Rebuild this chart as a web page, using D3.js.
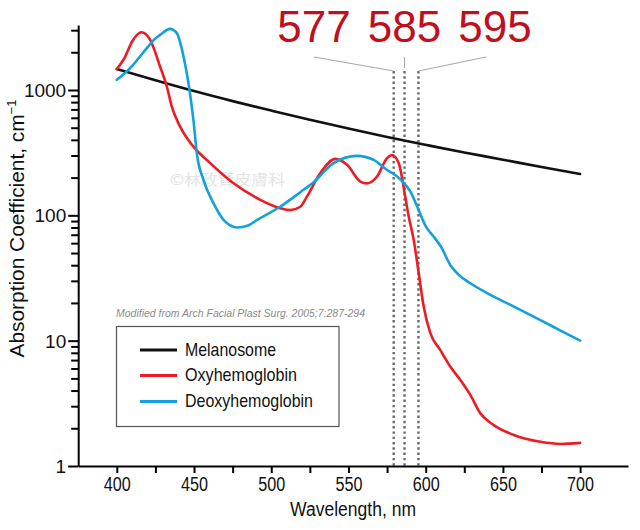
<!DOCTYPE html>
<html><head><meta charset="utf-8">
<script src="https://cdn.jsdelivr.net/npm/d3@7"></script>
<style>body{margin:0;background:#fff}svg{display:block}</style>
</head><body><svg id="c" width="640" height="530"></svg>
<script>
// ---- data ----
const wlMel = [400,425,450,475,500,525,550,575,600,625,650,675,700];
const melanosome = [1470,1195,980,815,685,578,492,422,365,317,278,243,214];

const wlOxy = [400,405,410,416,421.6,428,432.4,435.6,441,449.6,460.5,475.6,492.9,505.8,512.3,518.8,523.1,531.7,541.5,549.1,557.7,562,568.5,575,578.2,582.5,585,586,589,592.2,595.5,598.7,603,609.5,616,622.4,628.9,635.4,644.1,657,674.3,687.3,700];
const oxyhemoglobin = [1470,1800,2450,2890,2512,1540,1065,737,510,353,261,180,133,114,110,117,141,217,282,253,186,180,204,286,303,261,190,160,98,64,34.5,18.7,11.5,8.4,6.2,4.86,3.69,2.63,2.12,1.77,1.56,1.50,1.53];

const wlDeoxy = [400,410,415,420,424,428,434.5,438.9,441,443.2,446.4,449.6,451.8,456.1,462.6,469.1,478,485,490.9,505.8,518.8,527.4,540.4,555.5,566.3,575,581.5,585,590,595.5,600,605,610,616,622,628.9,641.9,654.9,674.3,687,700];
const deoxyhemoglobin = [1205,1560,1848,2200,2512,2750,3075,2840,2400,1848,1133,577,313,192,125,92,80,83,92,117,153,184,261,298,277,230,204,186,155,110,82,68,56,40,33,28.7,23.2,19.3,14.6,12.1,10];

const xTickValues = [400,425,450,475,500,525,550,575,600,625,650,675,700];
const xTickLabels = [400,450,500,550,600,650,700];
const yMajorTicks = [1,10,100,1000];
const yMinorTicks = [2,3,4,5,6,7,8,9,20,30,40,50,60,70,80,90,200,300,400,500,600,700,800,900,2000,3000];

const markerWl = [579.3, 586.3, 595.3];
const markerLabels = ["577","585","595"];

const seriesNames = ["Melanosome","Oxyhemoglobin","Deoxyhemoglobin"];
const seriesColors = ["#111111","#ec1c24","#14a0d8"];

// ---- drawing ----
const svg = d3.select("#c");
const NARROW = "'Liberation Sans Narrow','Arial Narrow','Liberation Sans',Arial,sans-serif";
const SANS = "'Liberation Sans',Arial,sans-serif";

const x = d3.scaleLinear().domain([375, 731]).range([78.2, 628]);
const y = d3.scaleLog().domain([1, 3300]).range([466, 25]);

// watermark
svg.append("text").attr("x", 170).attr("y", 185)
  .attr("font-family", "'Noto Sans CJK TC','Noto Sans CJK SC',sans-serif")
  .attr("font-size", 15).attr("fill", "#e4e4e4")
  .attr("textLength", 115).attr("lengthAdjust", "spacingAndGlyphs")
  .text("©林政賢皮膚科");

// marker dotted lines
svg.append("g").selectAll("line").data(markerWl).join("line")
  .attr("x1", d => x(d)).attr("x2", d => x(d))
  .attr("y1", 71).attr("y2", y(1))
  .attr("stroke", "#6a6a6a").attr("stroke-width", 2.4)
  .attr("stroke-dasharray", "2.4,2.9");

// marker labels and connectors
const labelCenters = markerLabels.map((d, i) => x(markerWl[1]) + (i - 1) * 90.5);
svg.append("g").selectAll("text").data(markerLabels).join("text")
  .attr("x", (d, i) => labelCenters[i]).attr("y", 42)
  .attr("text-anchor", "middle")
  .attr("font-family", SANS).attr("font-size", 44)
  .attr("fill", "#c00f1d")
  .text(d => d);
const connTop = [0, 0, -9];
svg.append("g").selectAll("line").data(markerWl).join("line")
  .attr("x1", (d, i) => labelCenters[i] + connTop[i]).attr("y1", 57)
  .attr("x2", d => x(d)).attr("y2", (d, i) => i === 1 ? 68 : 71)
  .attr("stroke", "#a8a8a8").attr("stroke-width", 1.1);

// lines
const line = d3.line().x(d => x(d[0])).y(d => y(d[1])).curve(d3.curveMonotoneX);
const series = [
  d3.zip(wlMel, melanosome),
  d3.zip(wlOxy, oxyhemoglobin),
  d3.zip(wlDeoxy, deoxyhemoglobin)
];
svg.append("g").selectAll("path").data(series).join("path")
  .attr("d", line).attr("fill", "none")
  .attr("stroke", (d, i) => seriesColors[i])
  .attr("stroke-width", 2.6).attr("stroke-linejoin", "round").attr("stroke-linecap", "round");

// x axis
const gx = svg.append("g").attr("transform", `translate(0,${y(1)})`)
  .call(d3.axisBottom(x).tickValues(xTickValues).tickSize(7).tickSizeOuter(0)
    .tickFormat(d => xTickLabels.includes(d) ? d : ""));
gx.select(".domain").attr("stroke", "#000").attr("stroke-width", 2);
gx.selectAll(".tick line").attr("stroke", "#000").attr("stroke-width", 2);
gx.selectAll(".tick text").attr("y", 25).attr("dy", 0)
  .attr("font-family", NARROW).attr("font-size", 19.5).attr("fill", "#111")
  .each(function(d){ if (xTickLabels.includes(d)) d3.select(this).attr("textLength", 27).attr("lengthAdjust","spacingAndGlyphs"); });

// y axis
const gy = svg.append("g").attr("transform", `translate(${x(375)},0)`)
  .call(d3.axisLeft(y).tickValues(yMajorTicks.concat(yMinorTicks)).tickSize(7).tickSizeOuter(0)
    .tickFormat(d => yMajorTicks.includes(d) ? String(d) : ""));
gy.select(".domain").attr("stroke", "#000").attr("stroke-width", 2);
gy.selectAll(".tick line").attr("stroke", "#000").attr("stroke-width", 2)
  .attr("x2", d => yMajorTicks.includes(d) ? -10 : -7);
gy.selectAll(".tick text").attr("x", -12).attr("dy", "0.34em")
  .attr("font-family", SANS).attr("font-size", 19).attr("fill", "#111");

// axis titles
svg.append("text").attr("x", 353).attr("y", 516).attr("text-anchor", "middle")
  .attr("font-family", NARROW).attr("font-size", 19.5).attr("fill", "#111")
  .attr("textLength", 126).attr("lengthAdjust", "spacingAndGlyphs")
  .text("Wavelength, nm");
const yt = svg.append("text").attr("transform", "translate(24,228.5) rotate(-90)")
  .attr("text-anchor", "middle")
  .attr("font-family", NARROW).attr("font-size", 20).attr("fill", "#111");
yt.append("tspan").attr("textLength", 243).attr("lengthAdjust", "spacingAndGlyphs").text("Absorption Coefficient, cm");
yt.append("tspan").attr("font-size", 13).attr("dy", -8).text("−1");

// caption
svg.append("text").attr("x", 116).attr("y", 317)
  .attr("font-family", NARROW).attr("font-style", "italic").attr("font-size", 10.5)
  .attr("fill", "#8a8a8a")
  .attr("textLength", 249).attr("lengthAdjust", "spacingAndGlyphs")
  .text("Modified from Arch Facial Plast Surg. 2005;7:287-294");

// legend
const lg = svg.append("g");
lg.append("rect").attr("x", 116.5).attr("y", 326.5).attr("width", 222.5).attr("height", 100)
  .attr("fill", "#fff").attr("stroke", "#555").attr("stroke-width", 1.2);
const legY = [350, 375.5, 401.5];
const legW = [91, 112, 128];
const li = lg.selectAll("g").data(seriesNames).join("g")
  .attr("transform", (d, i) => `translate(0,${legY[i]})`);
li.append("line").attr("x1", 140).attr("x2", 177).attr("stroke", (d, i) => seriesColors[i]).attr("stroke-width", 3);
li.append("text").attr("x", 185).attr("y", 5.5)
  .attr("font-family", NARROW).attr("font-size", 18.5).attr("fill", "#111")
  .attr("textLength", (d, i) => legW[i]).attr("lengthAdjust", "spacingAndGlyphs")
  .text(d => d);
</script></body></html>
